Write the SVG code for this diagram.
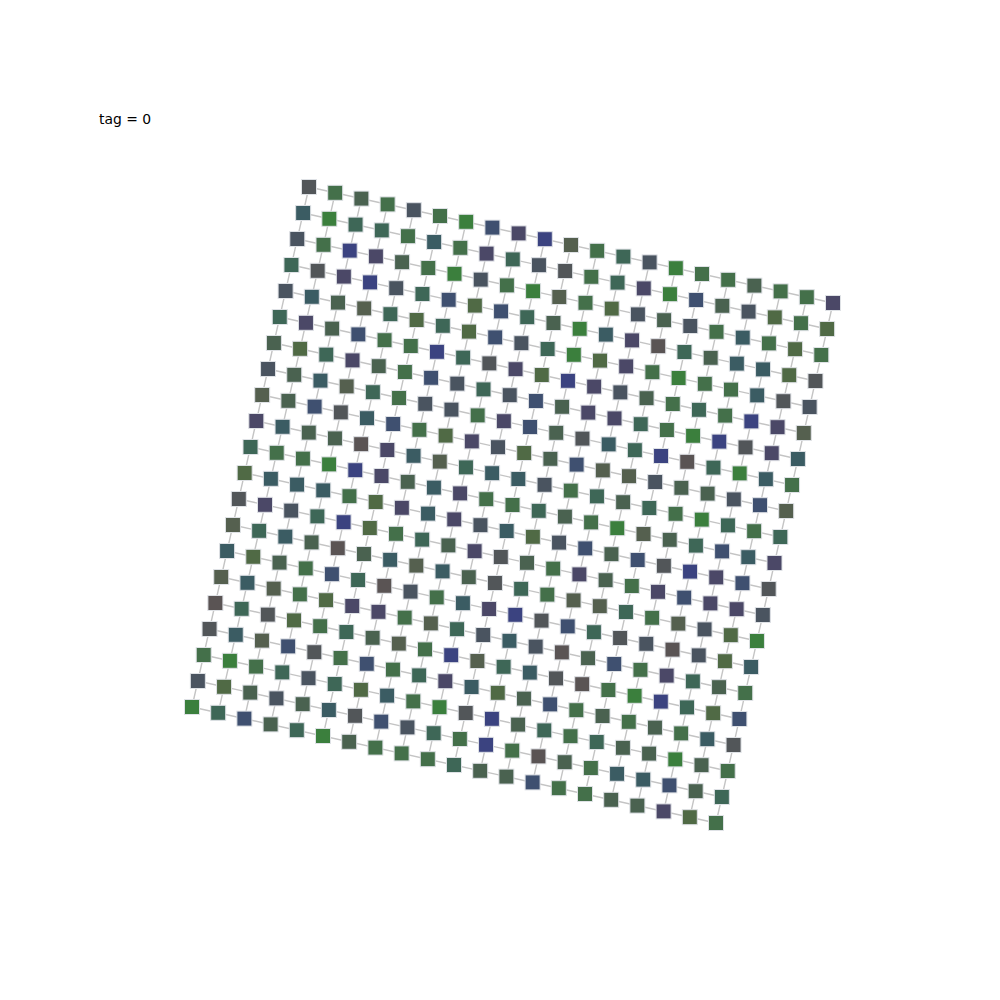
<svg xmlns="http://www.w3.org/2000/svg" xmlns:xlink="http://www.w3.org/1999/xlink" width="1000" height="1000" viewBox="0 0 1000 1000">
<style>
.G{fill:#3b7f3d}.g{fill:#44704a}.d{fill:#4a6250}.t{fill:#3e6757}.T{fill:#3b5c63}.s{fill:#4a5460}.S{fill:#3f5070}.b{fill:#3b4380}.p{fill:#4b4867}.k{fill:#525659}.o{fill:#55604f}.O{fill:#506a45}.n{fill:#5a5454}
#edges path{fill:none;stroke:#c4c4c4;stroke-width:1.4}
text{font-family:"DejaVu Sans","Liberation Sans",sans-serif;font-size:13.9px;fill:#000}
</style>
<defs><rect id="s" x="-7.5" y="-7.5" width="15" height="15" stroke="#dfe2e6" stroke-width="1"/></defs>
<rect width="1000" height="1000" fill="#fff"/>
<text x="99" y="124">tag = 0</text>
<g id="edges" transform="matrix(26.2 5.8 -5.85 26 309 187)">
<path vector-effect="non-scaling-stroke" d="M0 0H20M0 1H20M0 2H20M0 3H20M0 4H20M0 5H20M0 6H20M0 7H20M0 8H20M0 9H20M0 10H20M0 11H20M0 12H20M0 13H20M0 14H20M0 15H20M0 16H20M0 17H20M0 18H20M0 19H20M0 20H20M0 0V20M1 0V20M2 0V20M3 0V20M4 0V20M5 0V20M6 0V20M7 0V20M8 0V20M9 0V20M10 0V20M11 0V20M12 0V20M13 0V20M14 0V20M15 0V20M16 0V20M17 0V20M18 0V20M19 0V20M20 0V20"/>
</g>
<g id="nodes">
<g id="row0" transform="translate(309,187)"><use id="n0-0" href="#s" class="k" x="0" y="0"/><use id="n0-1" href="#s" class="g" x="26.2" y="5.8"/><use id="n0-2" href="#s" class="d" x="52.4" y="11.6"/><use id="n0-3" href="#s" class="g" x="78.6" y="17.4"/><use id="n0-4" href="#s" class="s" x="104.8" y="23.2"/><use id="n0-5" href="#s" class="g" x="131" y="29"/><use id="n0-6" href="#s" class="G" x="157.2" y="34.8"/><use id="n0-7" href="#s" class="S" x="183.4" y="40.6"/><use id="n0-8" href="#s" class="p" x="209.6" y="46.4"/><use id="n0-9" href="#s" class="b" x="235.8" y="52.2"/><use id="n0-10" href="#s" class="o" x="262" y="58"/><use id="n0-11" href="#s" class="g" x="288.2" y="63.8"/><use id="n0-12" href="#s" class="t" x="314.4" y="69.6"/><use id="n0-13" href="#s" class="s" x="340.6" y="75.4"/><use id="n0-14" href="#s" class="G" x="366.8" y="81.2"/><use id="n0-15" href="#s" class="g" x="393" y="87"/><use id="n0-16" href="#s" class="g" x="419.2" y="92.8"/><use id="n0-17" href="#s" class="d" x="445.4" y="98.6"/><use id="n0-18" href="#s" class="g" x="471.6" y="104.4"/><use id="n0-19" href="#s" class="g" x="497.8" y="110.2"/><use id="n0-20" href="#s" class="p" x="524" y="116"/></g>
<g id="row1" transform="translate(303.15,213)"><use id="n1-0" href="#s" class="T" x="0" y="0"/><use id="n1-1" href="#s" class="G" x="26.2" y="5.8"/><use id="n1-2" href="#s" class="t" x="52.4" y="11.6"/><use id="n1-3" href="#s" class="t" x="78.6" y="17.4"/><use id="n1-4" href="#s" class="g" x="104.8" y="23.2"/><use id="n1-5" href="#s" class="T" x="131" y="29"/><use id="n1-6" href="#s" class="g" x="157.2" y="34.8"/><use id="n1-7" href="#s" class="p" x="183.4" y="40.6"/><use id="n1-8" href="#s" class="t" x="209.6" y="46.4"/><use id="n1-9" href="#s" class="s" x="235.8" y="52.2"/><use id="n1-10" href="#s" class="k" x="262" y="58"/><use id="n1-11" href="#s" class="g" x="288.2" y="63.8"/><use id="n1-12" href="#s" class="t" x="314.4" y="69.6"/><use id="n1-13" href="#s" class="p" x="340.6" y="75.4"/><use id="n1-14" href="#s" class="G" x="366.8" y="81.2"/><use id="n1-15" href="#s" class="S" x="393" y="87"/><use id="n1-16" href="#s" class="d" x="419.2" y="92.8"/><use id="n1-17" href="#s" class="s" x="445.4" y="98.6"/><use id="n1-18" href="#s" class="O" x="471.6" y="104.4"/><use id="n1-19" href="#s" class="g" x="497.8" y="110.2"/><use id="n1-20" href="#s" class="O" x="524" y="116"/></g>
<g id="row2" transform="translate(297.3,239)"><use id="n2-0" href="#s" class="s" x="0" y="0"/><use id="n2-1" href="#s" class="g" x="26.2" y="5.8"/><use id="n2-2" href="#s" class="b" x="52.4" y="11.6"/><use id="n2-3" href="#s" class="p" x="78.6" y="17.4"/><use id="n2-4" href="#s" class="d" x="104.8" y="23.2"/><use id="n2-5" href="#s" class="g" x="131" y="29"/><use id="n2-6" href="#s" class="G" x="157.2" y="34.8"/><use id="n2-7" href="#s" class="s" x="183.4" y="40.6"/><use id="n2-8" href="#s" class="g" x="209.6" y="46.4"/><use id="n2-9" href="#s" class="G" x="235.8" y="52.2"/><use id="n2-10" href="#s" class="o" x="262" y="58"/><use id="n2-11" href="#s" class="g" x="288.2" y="63.8"/><use id="n2-12" href="#s" class="O" x="314.4" y="69.6"/><use id="n2-13" href="#s" class="s" x="340.6" y="75.4"/><use id="n2-14" href="#s" class="d" x="366.8" y="81.2"/><use id="n2-15" href="#s" class="s" x="393" y="87"/><use id="n2-16" href="#s" class="g" x="419.2" y="92.8"/><use id="n2-17" href="#s" class="T" x="445.4" y="98.6"/><use id="n2-18" href="#s" class="g" x="471.6" y="104.4"/><use id="n2-19" href="#s" class="O" x="497.8" y="110.2"/><use id="n2-20" href="#s" class="g" x="524" y="116"/></g>
<g id="row3" transform="translate(291.45,265)"><use id="n3-0" href="#s" class="t" x="0" y="0"/><use id="n3-1" href="#s" class="k" x="26.2" y="5.8"/><use id="n3-2" href="#s" class="p" x="52.4" y="11.6"/><use id="n3-3" href="#s" class="b" x="78.6" y="17.4"/><use id="n3-4" href="#s" class="s" x="104.8" y="23.2"/><use id="n3-5" href="#s" class="t" x="131" y="29"/><use id="n3-6" href="#s" class="S" x="157.2" y="34.8"/><use id="n3-7" href="#s" class="O" x="183.4" y="40.6"/><use id="n3-8" href="#s" class="S" x="209.6" y="46.4"/><use id="n3-9" href="#s" class="t" x="235.8" y="52.2"/><use id="n3-10" href="#s" class="d" x="262" y="58"/><use id="n3-11" href="#s" class="G" x="288.2" y="63.8"/><use id="n3-12" href="#s" class="T" x="314.4" y="69.6"/><use id="n3-13" href="#s" class="p" x="340.6" y="75.4"/><use id="n3-14" href="#s" class="n" x="366.8" y="81.2"/><use id="n3-15" href="#s" class="t" x="393" y="87"/><use id="n3-16" href="#s" class="d" x="419.2" y="92.8"/><use id="n3-17" href="#s" class="T" x="445.4" y="98.6"/><use id="n3-18" href="#s" class="T" x="471.6" y="104.4"/><use id="n3-19" href="#s" class="O" x="497.8" y="110.2"/><use id="n3-20" href="#s" class="k" x="524" y="116"/></g>
<g id="row4" transform="translate(285.6,291)"><use id="n4-0" href="#s" class="s" x="0" y="0"/><use id="n4-1" href="#s" class="T" x="26.2" y="5.8"/><use id="n4-2" href="#s" class="d" x="52.4" y="11.6"/><use id="n4-3" href="#s" class="o" x="78.6" y="17.4"/><use id="n4-4" href="#s" class="t" x="104.8" y="23.2"/><use id="n4-5" href="#s" class="O" x="131" y="29"/><use id="n4-6" href="#s" class="t" x="157.2" y="34.8"/><use id="n4-7" href="#s" class="O" x="183.4" y="40.6"/><use id="n4-8" href="#s" class="S" x="209.6" y="46.4"/><use id="n4-9" href="#s" class="s" x="235.8" y="52.2"/><use id="n4-10" href="#s" class="t" x="262" y="58"/><use id="n4-11" href="#s" class="G" x="288.2" y="63.8"/><use id="n4-12" href="#s" class="O" x="314.4" y="69.6"/><use id="n4-13" href="#s" class="p" x="340.6" y="75.4"/><use id="n4-14" href="#s" class="g" x="366.8" y="81.2"/><use id="n4-15" href="#s" class="G" x="393" y="87"/><use id="n4-16" href="#s" class="g" x="419.2" y="92.8"/><use id="n4-17" href="#s" class="g" x="445.4" y="98.6"/><use id="n4-18" href="#s" class="T" x="471.6" y="104.4"/><use id="n4-19" href="#s" class="k" x="497.8" y="110.2"/><use id="n4-20" href="#s" class="s" x="524" y="116"/></g>
<g id="row5" transform="translate(279.75,317)"><use id="n5-0" href="#s" class="t" x="0" y="0"/><use id="n5-1" href="#s" class="p" x="26.2" y="5.8"/><use id="n5-2" href="#s" class="d" x="52.4" y="11.6"/><use id="n5-3" href="#s" class="S" x="78.6" y="17.4"/><use id="n5-4" href="#s" class="g" x="104.8" y="23.2"/><use id="n5-5" href="#s" class="g" x="131" y="29"/><use id="n5-6" href="#s" class="b" x="157.2" y="34.8"/><use id="n5-7" href="#s" class="t" x="183.4" y="40.6"/><use id="n5-8" href="#s" class="k" x="209.6" y="46.4"/><use id="n5-9" href="#s" class="p" x="235.8" y="52.2"/><use id="n5-10" href="#s" class="O" x="262" y="58"/><use id="n5-11" href="#s" class="b" x="288.2" y="63.8"/><use id="n5-12" href="#s" class="p" x="314.4" y="69.6"/><use id="n5-13" href="#s" class="s" x="340.6" y="75.4"/><use id="n5-14" href="#s" class="d" x="366.8" y="81.2"/><use id="n5-15" href="#s" class="g" x="393" y="87"/><use id="n5-16" href="#s" class="t" x="419.2" y="92.8"/><use id="n5-17" href="#s" class="g" x="445.4" y="98.6"/><use id="n5-18" href="#s" class="b" x="471.6" y="104.4"/><use id="n5-19" href="#s" class="p" x="497.8" y="110.2"/><use id="n5-20" href="#s" class="o" x="524" y="116"/></g>
<g id="row6" transform="translate(273.9,343)"><use id="n6-0" href="#s" class="d" x="0" y="0"/><use id="n6-1" href="#s" class="O" x="26.2" y="5.8"/><use id="n6-2" href="#s" class="t" x="52.4" y="11.6"/><use id="n6-3" href="#s" class="p" x="78.6" y="17.4"/><use id="n6-4" href="#s" class="d" x="104.8" y="23.2"/><use id="n6-5" href="#s" class="g" x="131" y="29"/><use id="n6-6" href="#s" class="S" x="157.2" y="34.8"/><use id="n6-7" href="#s" class="s" x="183.4" y="40.6"/><use id="n6-8" href="#s" class="t" x="209.6" y="46.4"/><use id="n6-9" href="#s" class="s" x="235.8" y="52.2"/><use id="n6-10" href="#s" class="S" x="262" y="58"/><use id="n6-11" href="#s" class="d" x="288.2" y="63.8"/><use id="n6-12" href="#s" class="p" x="314.4" y="69.6"/><use id="n6-13" href="#s" class="p" x="340.6" y="75.4"/><use id="n6-14" href="#s" class="t" x="366.8" y="81.2"/><use id="n6-15" href="#s" class="g" x="393" y="87"/><use id="n6-16" href="#s" class="G" x="419.2" y="92.8"/><use id="n6-17" href="#s" class="b" x="445.4" y="98.6"/><use id="n6-18" href="#s" class="k" x="471.6" y="104.4"/><use id="n6-19" href="#s" class="p" x="497.8" y="110.2"/><use id="n6-20" href="#s" class="T" x="524" y="116"/></g>
<g id="row7" transform="translate(268.05,369)"><use id="n7-0" href="#s" class="s" x="0" y="0"/><use id="n7-1" href="#s" class="d" x="26.2" y="5.8"/><use id="n7-2" href="#s" class="T" x="52.4" y="11.6"/><use id="n7-3" href="#s" class="o" x="78.6" y="17.4"/><use id="n7-4" href="#s" class="t" x="104.8" y="23.2"/><use id="n7-5" href="#s" class="g" x="131" y="29"/><use id="n7-6" href="#s" class="s" x="157.2" y="34.8"/><use id="n7-7" href="#s" class="s" x="183.4" y="40.6"/><use id="n7-8" href="#s" class="g" x="209.6" y="46.4"/><use id="n7-9" href="#s" class="p" x="235.8" y="52.2"/><use id="n7-10" href="#s" class="S" x="262" y="58"/><use id="n7-11" href="#s" class="d" x="288.2" y="63.8"/><use id="n7-12" href="#s" class="k" x="314.4" y="69.6"/><use id="n7-13" href="#s" class="T" x="340.6" y="75.4"/><use id="n7-14" href="#s" class="t" x="366.8" y="81.2"/><use id="n7-15" href="#s" class="b" x="393" y="87"/><use id="n7-16" href="#s" class="n" x="419.2" y="92.8"/><use id="n7-17" href="#s" class="t" x="445.4" y="98.6"/><use id="n7-18" href="#s" class="G" x="471.6" y="104.4"/><use id="n7-19" href="#s" class="T" x="497.8" y="110.2"/><use id="n7-20" href="#s" class="g" x="524" y="116"/></g>
<g id="row8" transform="translate(262.2,395)"><use id="n8-0" href="#s" class="o" x="0" y="0"/><use id="n8-1" href="#s" class="d" x="26.2" y="5.8"/><use id="n8-2" href="#s" class="S" x="52.4" y="11.6"/><use id="n8-3" href="#s" class="k" x="78.6" y="17.4"/><use id="n8-4" href="#s" class="T" x="104.8" y="23.2"/><use id="n8-5" href="#s" class="S" x="131" y="29"/><use id="n8-6" href="#s" class="g" x="157.2" y="34.8"/><use id="n8-7" href="#s" class="O" x="183.4" y="40.6"/><use id="n8-8" href="#s" class="p" x="209.6" y="46.4"/><use id="n8-9" href="#s" class="s" x="235.8" y="52.2"/><use id="n8-10" href="#s" class="O" x="262" y="58"/><use id="n8-11" href="#s" class="d" x="288.2" y="63.8"/><use id="n8-12" href="#s" class="S" x="314.4" y="69.6"/><use id="n8-13" href="#s" class="o" x="340.6" y="75.4"/><use id="n8-14" href="#s" class="o" x="366.8" y="81.2"/><use id="n8-15" href="#s" class="s" x="393" y="87"/><use id="n8-16" href="#s" class="d" x="419.2" y="92.8"/><use id="n8-17" href="#s" class="d" x="445.4" y="98.6"/><use id="n8-18" href="#s" class="s" x="471.6" y="104.4"/><use id="n8-19" href="#s" class="S" x="497.8" y="110.2"/><use id="n8-20" href="#s" class="o" x="524" y="116"/></g>
<g id="row9" transform="translate(256.35,421)"><use id="n9-0" href="#s" class="p" x="0" y="0"/><use id="n9-1" href="#s" class="T" x="26.2" y="5.8"/><use id="n9-2" href="#s" class="d" x="52.4" y="11.6"/><use id="n9-3" href="#s" class="d" x="78.6" y="17.4"/><use id="n9-4" href="#s" class="n" x="104.8" y="23.2"/><use id="n9-5" href="#s" class="p" x="131" y="29"/><use id="n9-6" href="#s" class="T" x="157.2" y="34.8"/><use id="n9-7" href="#s" class="o" x="183.4" y="40.6"/><use id="n9-8" href="#s" class="t" x="209.6" y="46.4"/><use id="n9-9" href="#s" class="T" x="235.8" y="52.2"/><use id="n9-10" href="#s" class="T" x="262" y="58"/><use id="n9-11" href="#s" class="s" x="288.2" y="63.8"/><use id="n9-12" href="#s" class="g" x="314.4" y="69.6"/><use id="n9-13" href="#s" class="t" x="340.6" y="75.4"/><use id="n9-14" href="#s" class="d" x="366.8" y="81.2"/><use id="n9-15" href="#s" class="t" x="393" y="87"/><use id="n9-16" href="#s" class="g" x="419.2" y="92.8"/><use id="n9-17" href="#s" class="G" x="445.4" y="98.6"/><use id="n9-18" href="#s" class="t" x="471.6" y="104.4"/><use id="n9-19" href="#s" class="g" x="497.8" y="110.2"/><use id="n9-20" href="#s" class="t" x="524" y="116"/></g>
<g id="row10" transform="translate(250.5,447)"><use id="n10-0" href="#s" class="t" x="0" y="0"/><use id="n10-1" href="#s" class="g" x="26.2" y="5.8"/><use id="n10-2" href="#s" class="g" x="52.4" y="11.6"/><use id="n10-3" href="#s" class="G" x="78.6" y="17.4"/><use id="n10-4" href="#s" class="b" x="104.8" y="23.2"/><use id="n10-5" href="#s" class="p" x="131" y="29"/><use id="n10-6" href="#s" class="d" x="157.2" y="34.8"/><use id="n10-7" href="#s" class="T" x="183.4" y="40.6"/><use id="n10-8" href="#s" class="p" x="209.6" y="46.4"/><use id="n10-9" href="#s" class="g" x="235.8" y="52.2"/><use id="n10-10" href="#s" class="g" x="262" y="58"/><use id="n10-11" href="#s" class="t" x="288.2" y="63.8"/><use id="n10-12" href="#s" class="d" x="314.4" y="69.6"/><use id="n10-13" href="#s" class="g" x="340.6" y="75.4"/><use id="n10-14" href="#s" class="G" x="366.8" y="81.2"/><use id="n10-15" href="#s" class="o" x="393" y="87"/><use id="n10-16" href="#s" class="d" x="419.2" y="92.8"/><use id="n10-17" href="#s" class="t" x="445.4" y="98.6"/><use id="n10-18" href="#s" class="S" x="471.6" y="104.4"/><use id="n10-19" href="#s" class="T" x="497.8" y="110.2"/><use id="n10-20" href="#s" class="p" x="524" y="116"/></g>
<g id="row11" transform="translate(244.65,473)"><use id="n11-0" href="#s" class="O" x="0" y="0"/><use id="n11-1" href="#s" class="T" x="26.2" y="5.8"/><use id="n11-2" href="#s" class="T" x="52.4" y="11.6"/><use id="n11-3" href="#s" class="T" x="78.6" y="17.4"/><use id="n11-4" href="#s" class="g" x="104.8" y="23.2"/><use id="n11-5" href="#s" class="O" x="131" y="29"/><use id="n11-6" href="#s" class="p" x="157.2" y="34.8"/><use id="n11-7" href="#s" class="T" x="183.4" y="40.6"/><use id="n11-8" href="#s" class="p" x="209.6" y="46.4"/><use id="n11-9" href="#s" class="s" x="235.8" y="52.2"/><use id="n11-10" href="#s" class="T" x="262" y="58"/><use id="n11-11" href="#s" class="O" x="288.2" y="63.8"/><use id="n11-12" href="#s" class="s" x="314.4" y="69.6"/><use id="n11-13" href="#s" class="S" x="340.6" y="75.4"/><use id="n11-14" href="#s" class="d" x="366.8" y="81.2"/><use id="n11-15" href="#s" class="S" x="393" y="87"/><use id="n11-16" href="#s" class="k" x="419.2" y="92.8"/><use id="n11-17" href="#s" class="b" x="445.4" y="98.6"/><use id="n11-18" href="#s" class="p" x="471.6" y="104.4"/><use id="n11-19" href="#s" class="S" x="497.8" y="110.2"/><use id="n11-20" href="#s" class="k" x="524" y="116"/></g>
<g id="row12" transform="translate(238.8,499)"><use id="n12-0" href="#s" class="k" x="0" y="0"/><use id="n12-1" href="#s" class="p" x="26.2" y="5.8"/><use id="n12-2" href="#s" class="s" x="52.4" y="11.6"/><use id="n12-3" href="#s" class="t" x="78.6" y="17.4"/><use id="n12-4" href="#s" class="b" x="104.8" y="23.2"/><use id="n12-5" href="#s" class="O" x="131" y="29"/><use id="n12-6" href="#s" class="g" x="157.2" y="34.8"/><use id="n12-7" href="#s" class="t" x="183.4" y="40.6"/><use id="n12-8" href="#s" class="d" x="209.6" y="46.4"/><use id="n12-9" href="#s" class="p" x="235.8" y="52.2"/><use id="n12-10" href="#s" class="k" x="262" y="58"/><use id="n12-11" href="#s" class="d" x="288.2" y="63.8"/><use id="n12-12" href="#s" class="g" x="314.4" y="69.6"/><use id="n12-13" href="#s" class="p" x="340.6" y="75.4"/><use id="n12-14" href="#s" class="d" x="366.8" y="81.2"/><use id="n12-15" href="#s" class="g" x="393" y="87"/><use id="n12-16" href="#s" class="p" x="419.2" y="92.8"/><use id="n12-17" href="#s" class="S" x="445.4" y="98.6"/><use id="n12-18" href="#s" class="p" x="471.6" y="104.4"/><use id="n12-19" href="#s" class="p" x="497.8" y="110.2"/><use id="n12-20" href="#s" class="s" x="524" y="116"/></g>
<g id="row13" transform="translate(232.95,525)"><use id="n13-0" href="#s" class="o" x="0" y="0"/><use id="n13-1" href="#s" class="t" x="26.2" y="5.8"/><use id="n13-2" href="#s" class="T" x="52.4" y="11.6"/><use id="n13-3" href="#s" class="d" x="78.6" y="17.4"/><use id="n13-4" href="#s" class="n" x="104.8" y="23.2"/><use id="n13-5" href="#s" class="d" x="131" y="29"/><use id="n13-6" href="#s" class="T" x="157.2" y="34.8"/><use id="n13-7" href="#s" class="o" x="183.4" y="40.6"/><use id="n13-8" href="#s" class="T" x="209.6" y="46.4"/><use id="n13-9" href="#s" class="d" x="235.8" y="52.2"/><use id="n13-10" href="#s" class="k" x="262" y="58"/><use id="n13-11" href="#s" class="t" x="288.2" y="63.8"/><use id="n13-12" href="#s" class="g" x="314.4" y="69.6"/><use id="n13-13" href="#s" class="o" x="340.6" y="75.4"/><use id="n13-14" href="#s" class="o" x="366.8" y="81.2"/><use id="n13-15" href="#s" class="t" x="393" y="87"/><use id="n13-16" href="#s" class="g" x="419.2" y="92.8"/><use id="n13-17" href="#s" class="o" x="445.4" y="98.6"/><use id="n13-18" href="#s" class="s" x="471.6" y="104.4"/><use id="n13-19" href="#s" class="O" x="497.8" y="110.2"/><use id="n13-20" href="#s" class="G" x="524" y="116"/></g>
<g id="row14" transform="translate(227.1,551)"><use id="n14-0" href="#s" class="T" x="0" y="0"/><use id="n14-1" href="#s" class="O" x="26.2" y="5.8"/><use id="n14-2" href="#s" class="d" x="52.4" y="11.6"/><use id="n14-3" href="#s" class="g" x="78.6" y="17.4"/><use id="n14-4" href="#s" class="S" x="104.8" y="23.2"/><use id="n14-5" href="#s" class="t" x="131" y="29"/><use id="n14-6" href="#s" class="n" x="157.2" y="34.8"/><use id="n14-7" href="#s" class="s" x="183.4" y="40.6"/><use id="n14-8" href="#s" class="g" x="209.6" y="46.4"/><use id="n14-9" href="#s" class="T" x="235.8" y="52.2"/><use id="n14-10" href="#s" class="p" x="262" y="58"/><use id="n14-11" href="#s" class="b" x="288.2" y="63.8"/><use id="n14-12" href="#s" class="k" x="314.4" y="69.6"/><use id="n14-13" href="#s" class="S" x="340.6" y="75.4"/><use id="n14-14" href="#s" class="t" x="366.8" y="81.2"/><use id="n14-15" href="#s" class="k" x="393" y="87"/><use id="n14-16" href="#s" class="s" x="419.2" y="92.8"/><use id="n14-17" href="#s" class="n" x="445.4" y="98.6"/><use id="n14-18" href="#s" class="s" x="471.6" y="104.4"/><use id="n14-19" href="#s" class="O" x="497.8" y="110.2"/><use id="n14-20" href="#s" class="T" x="524" y="116"/></g>
<g id="row15" transform="translate(221.25,577)"><use id="n15-0" href="#s" class="o" x="0" y="0"/><use id="n15-1" href="#s" class="T" x="26.2" y="5.8"/><use id="n15-2" href="#s" class="o" x="52.4" y="11.6"/><use id="n15-3" href="#s" class="g" x="78.6" y="17.4"/><use id="n15-4" href="#s" class="O" x="104.8" y="23.2"/><use id="n15-5" href="#s" class="p" x="131" y="29"/><use id="n15-6" href="#s" class="p" x="157.2" y="34.8"/><use id="n15-7" href="#s" class="g" x="183.4" y="40.6"/><use id="n15-8" href="#s" class="o" x="209.6" y="46.4"/><use id="n15-9" href="#s" class="t" x="235.8" y="52.2"/><use id="n15-10" href="#s" class="s" x="262" y="58"/><use id="n15-11" href="#s" class="T" x="288.2" y="63.8"/><use id="n15-12" href="#s" class="s" x="314.4" y="69.6"/><use id="n15-13" href="#s" class="n" x="340.6" y="75.4"/><use id="n15-14" href="#s" class="d" x="366.8" y="81.2"/><use id="n15-15" href="#s" class="S" x="393" y="87"/><use id="n15-16" href="#s" class="g" x="419.2" y="92.8"/><use id="n15-17" href="#s" class="p" x="445.4" y="98.6"/><use id="n15-18" href="#s" class="t" x="471.6" y="104.4"/><use id="n15-19" href="#s" class="d" x="497.8" y="110.2"/><use id="n15-20" href="#s" class="g" x="524" y="116"/></g>
<g id="row16" transform="translate(215.4,603)"><use id="n16-0" href="#s" class="n" x="0" y="0"/><use id="n16-1" href="#s" class="t" x="26.2" y="5.8"/><use id="n16-2" href="#s" class="k" x="52.4" y="11.6"/><use id="n16-3" href="#s" class="O" x="78.6" y="17.4"/><use id="n16-4" href="#s" class="g" x="104.8" y="23.2"/><use id="n16-5" href="#s" class="t" x="131" y="29"/><use id="n16-6" href="#s" class="d" x="157.2" y="34.8"/><use id="n16-7" href="#s" class="o" x="183.4" y="40.6"/><use id="n16-8" href="#s" class="g" x="209.6" y="46.4"/><use id="n16-9" href="#s" class="b" x="235.8" y="52.2"/><use id="n16-10" href="#s" class="o" x="262" y="58"/><use id="n16-11" href="#s" class="t" x="288.2" y="63.8"/><use id="n16-12" href="#s" class="T" x="314.4" y="69.6"/><use id="n16-13" href="#s" class="k" x="340.6" y="75.4"/><use id="n16-14" href="#s" class="n" x="366.8" y="81.2"/><use id="n16-15" href="#s" class="g" x="393" y="87"/><use id="n16-16" href="#s" class="G" x="419.2" y="92.8"/><use id="n16-17" href="#s" class="b" x="445.4" y="98.6"/><use id="n16-18" href="#s" class="t" x="471.6" y="104.4"/><use id="n16-19" href="#s" class="O" x="497.8" y="110.2"/><use id="n16-20" href="#s" class="S" x="524" y="116"/></g>
<g id="row17" transform="translate(209.55,629)"><use id="n17-0" href="#s" class="k" x="0" y="0"/><use id="n17-1" href="#s" class="T" x="26.2" y="5.8"/><use id="n17-2" href="#s" class="o" x="52.4" y="11.6"/><use id="n17-3" href="#s" class="S" x="78.6" y="17.4"/><use id="n17-4" href="#s" class="k" x="104.8" y="23.2"/><use id="n17-5" href="#s" class="g" x="131" y="29"/><use id="n17-6" href="#s" class="S" x="157.2" y="34.8"/><use id="n17-7" href="#s" class="g" x="183.4" y="40.6"/><use id="n17-8" href="#s" class="t" x="209.6" y="46.4"/><use id="n17-9" href="#s" class="p" x="235.8" y="52.2"/><use id="n17-10" href="#s" class="T" x="262" y="58"/><use id="n17-11" href="#s" class="O" x="288.2" y="63.8"/><use id="n17-12" href="#s" class="d" x="314.4" y="69.6"/><use id="n17-13" href="#s" class="S" x="340.6" y="75.4"/><use id="n17-14" href="#s" class="g" x="366.8" y="81.2"/><use id="n17-15" href="#s" class="d" x="393" y="87"/><use id="n17-16" href="#s" class="g" x="419.2" y="92.8"/><use id="n17-17" href="#s" class="d" x="445.4" y="98.6"/><use id="n17-18" href="#s" class="g" x="471.6" y="104.4"/><use id="n17-19" href="#s" class="T" x="497.8" y="110.2"/><use id="n17-20" href="#s" class="k" x="524" y="116"/></g>
<g id="row18" transform="translate(203.7,655)"><use id="n18-0" href="#s" class="g" x="0" y="0"/><use id="n18-1" href="#s" class="G" x="26.2" y="5.8"/><use id="n18-2" href="#s" class="g" x="52.4" y="11.6"/><use id="n18-3" href="#s" class="t" x="78.6" y="17.4"/><use id="n18-4" href="#s" class="s" x="104.8" y="23.2"/><use id="n18-5" href="#s" class="t" x="131" y="29"/><use id="n18-6" href="#s" class="O" x="157.2" y="34.8"/><use id="n18-7" href="#s" class="T" x="183.4" y="40.6"/><use id="n18-8" href="#s" class="g" x="209.6" y="46.4"/><use id="n18-9" href="#s" class="G" x="235.8" y="52.2"/><use id="n18-10" href="#s" class="k" x="262" y="58"/><use id="n18-11" href="#s" class="b" x="288.2" y="63.8"/><use id="n18-12" href="#s" class="d" x="314.4" y="69.6"/><use id="n18-13" href="#s" class="t" x="340.6" y="75.4"/><use id="n18-14" href="#s" class="g" x="366.8" y="81.2"/><use id="n18-15" href="#s" class="t" x="393" y="87"/><use id="n18-16" href="#s" class="d" x="419.2" y="92.8"/><use id="n18-17" href="#s" class="d" x="445.4" y="98.6"/><use id="n18-18" href="#s" class="G" x="471.6" y="104.4"/><use id="n18-19" href="#s" class="d" x="497.8" y="110.2"/><use id="n18-20" href="#s" class="g" x="524" y="116"/></g>
<g id="row19" transform="translate(197.85,681)"><use id="n19-0" href="#s" class="s" x="0" y="0"/><use id="n19-1" href="#s" class="O" x="26.2" y="5.8"/><use id="n19-2" href="#s" class="d" x="52.4" y="11.6"/><use id="n19-3" href="#s" class="s" x="78.6" y="17.4"/><use id="n19-4" href="#s" class="d" x="104.8" y="23.2"/><use id="n19-5" href="#s" class="T" x="131" y="29"/><use id="n19-6" href="#s" class="k" x="157.2" y="34.8"/><use id="n19-7" href="#s" class="S" x="183.4" y="40.6"/><use id="n19-8" href="#s" class="s" x="209.6" y="46.4"/><use id="n19-9" href="#s" class="t" x="235.8" y="52.2"/><use id="n19-10" href="#s" class="g" x="262" y="58"/><use id="n19-11" href="#s" class="b" x="288.2" y="63.8"/><use id="n19-12" href="#s" class="g" x="314.4" y="69.6"/><use id="n19-13" href="#s" class="n" x="340.6" y="75.4"/><use id="n19-14" href="#s" class="d" x="366.8" y="81.2"/><use id="n19-15" href="#s" class="g" x="393" y="87"/><use id="n19-16" href="#s" class="T" x="419.2" y="92.8"/><use id="n19-17" href="#s" class="T" x="445.4" y="98.6"/><use id="n19-18" href="#s" class="S" x="471.6" y="104.4"/><use id="n19-19" href="#s" class="d" x="497.8" y="110.2"/><use id="n19-20" href="#s" class="t" x="524" y="116"/></g>
<g id="row20" transform="translate(192,707)"><use id="n20-0" href="#s" class="G" x="0" y="0"/><use id="n20-1" href="#s" class="t" x="26.2" y="5.8"/><use id="n20-2" href="#s" class="S" x="52.4" y="11.6"/><use id="n20-3" href="#s" class="d" x="78.6" y="17.4"/><use id="n20-4" href="#s" class="t" x="104.8" y="23.2"/><use id="n20-5" href="#s" class="G" x="131" y="29"/><use id="n20-6" href="#s" class="d" x="157.2" y="34.8"/><use id="n20-7" href="#s" class="g" x="183.4" y="40.6"/><use id="n20-8" href="#s" class="g" x="209.6" y="46.4"/><use id="n20-9" href="#s" class="g" x="235.8" y="52.2"/><use id="n20-10" href="#s" class="t" x="262" y="58"/><use id="n20-11" href="#s" class="d" x="288.2" y="63.8"/><use id="n20-12" href="#s" class="d" x="314.4" y="69.6"/><use id="n20-13" href="#s" class="S" x="340.6" y="75.4"/><use id="n20-14" href="#s" class="g" x="366.8" y="81.2"/><use id="n20-15" href="#s" class="g" x="393" y="87"/><use id="n20-16" href="#s" class="d" x="419.2" y="92.8"/><use id="n20-17" href="#s" class="d" x="445.4" y="98.6"/><use id="n20-18" href="#s" class="p" x="471.6" y="104.4"/><use id="n20-19" href="#s" class="O" x="497.8" y="110.2"/><use id="n20-20" href="#s" class="g" x="524" y="116"/></g>
</g>
</svg>
